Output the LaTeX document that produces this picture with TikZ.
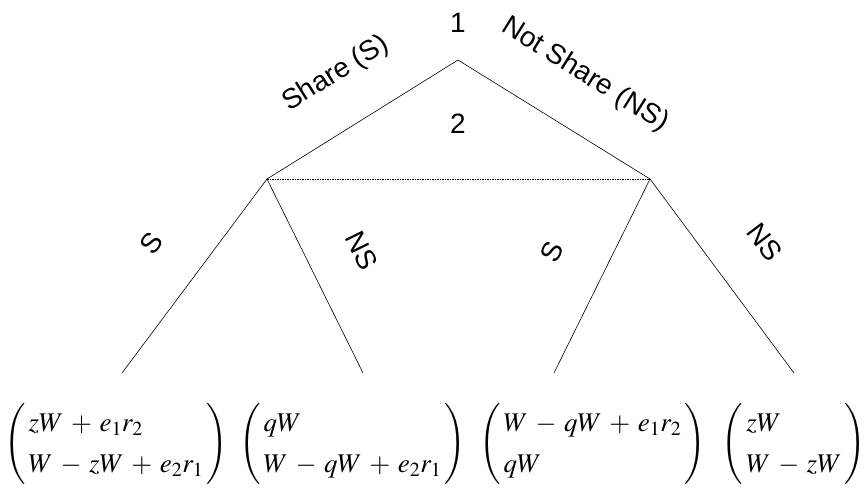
\documentclass[tikz,border=0pt]{standalone}
\usepackage{mathptmx}
\usepackage{fontspec}
\setsansfont{Liberation Sans}
\usetikzlibrary{positioning,calc}

\begin{document}
\begin{tikzpicture}[x=1pt,y=1pt,
    lbl/.style={font=\sffamily\fontsize{28}{32}\selectfont, inner sep=0pt},
    pay/.style={font=\fontsize{27}{30}\selectfont, inner sep=0pt},
    branch/.style={line width=0.6pt},
    infoset/.style={line width=0.6pt, dash pattern=on 1.5pt off 1pt}]
  \useasboundingbox (0,0) rectangle (865,496);
  % decision points, y counted from the bottom
  \coordinate (root)  at (458,436);
  \coordinate (left)  at (267,317);
  \coordinate (right) at (650,317);
  % ends of the last branches
  \coordinate (ll) at (122,123);
  \coordinate (lr) at (363,123);
  \coordinate (rl) at (554,123);
  \coordinate (rr) at (794,123);
  % branches and the information set of player 2
  \draw[branch] (left) -- (root) -- (right);
  \draw[infoset] (left) -- (right);
  \draw[branch] (ll) -- (left) -- (lr);
  \draw[branch] (rl) -- (right) -- (rr);
  % players
  \node[lbl] (pl1) at (458,473) {1};
  \node[lbl] (pl2) at (458,372) {2};
  % moves
  \node[lbl, rotate=32]  (sh)   at (336,422) {Share (S)};
  \node[lbl, rotate=-32] (nsh)  at (585,421) {Not Share (NS)};
  \node[lbl, rotate=53]  (sl)   at (151,253) {S};
  \node[lbl, rotate=-64] (nsl)  at (362,245) {NS};
  \node[lbl, rotate=64]  (sr)   at (552,244) {S};
  \node[lbl, rotate=-53] (nsr)  at (765,254) {NS};
  % payoffs
  \def\arraystretch{1.37}
  \setlength{\arraycolsep}{3pt}
  \medmuskip=5mu plus 2mu minus 2mu
  \node[pay] (pay1) at (116,52)   {$\left(\begin{array}{l} zW + e_1 r_2 \\ W - zW + e_2 r_1 \end{array}\right)$};
  \node[pay] (pay2) at (352.5,52) {$\left(\begin{array}{l} qW \\ W - qW + e_2 r_1 \end{array}\right)$};
  \node[pay] (pay3) at (592.5,52) {$\left(\begin{array}{l} W - qW + e_1 r_2 \\ qW \end{array}\right)$};
  \node[pay] (pay4) at (794,52)   {$\left(\begin{array}{l} zW \\ W - zW \end{array}\right)$};
\end{tikzpicture}
\end{document}
